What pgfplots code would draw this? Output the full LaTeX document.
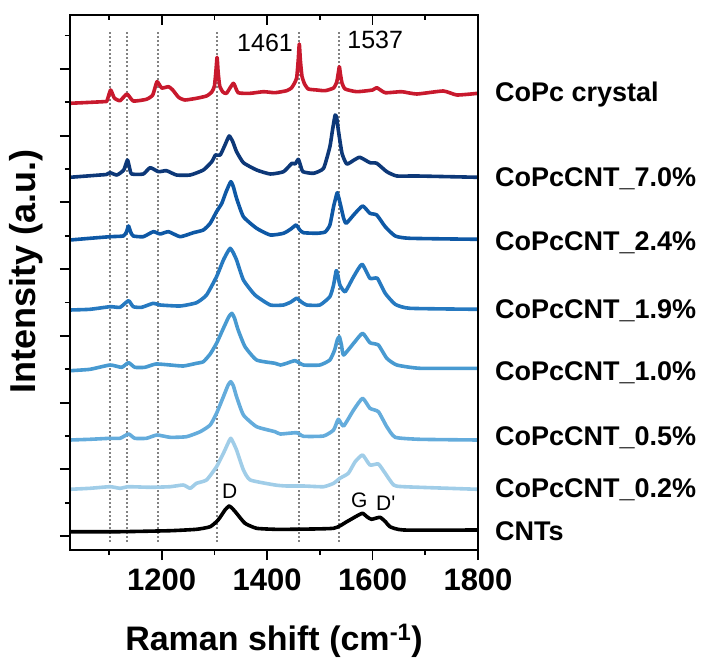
\documentclass[border=0pt]{standalone}
\usepackage{fontspec}
\setmainfont{Liberation Sans}
\usepackage{pgfplots}
\pgfplotsset{compat=1.18}
\definecolor{cred}{RGB}{200,25,45}
\definecolor{cseven}{RGB}{13,56,120}
\definecolor{ctwofour}{RGB}{14,88,165}
\definecolor{conenine}{RGB}{38,121,192}
\definecolor{conezero}{RGB}{72,154,209}
\definecolor{czerofive}{RGB}{100,172,220}
\definecolor{czerotwo}{RGB}{160,205,232}
\definecolor{cdot}{RGB}{130,130,130}
\begin{document}
\begin{tikzpicture}
\useasboundingbox (-70pt,-109pt) rectangle (631pt,550pt);
\begin{axis}[at={(0pt,0pt)}, anchor=south west, scale only axis,
  width=408pt, height=535pt,
  xmin=1026, xmax=1800, ymin=0, ymax=535, clip=false,
  axis line style={line width=2pt},
  xtick={1200,1400,1600,1800}, xticklabels={1200,1400,1600,1800},
  minor xtick={1100,1300,1500,1700},
  ytick={14,80.7,147.4,214.1,280.9,347.6,414.3,481}, yticklabels={},
  minor ytick={47.4,114,180.8,247.5,314.3,381,447.6,514.4},
  xtick pos=left, ytick pos=left, tick align=outside,
  major tick length=10pt, minor tick length=5pt,
  tick style={black, line width=1.8pt},
  x tick label style={font=\fontsize{31}{31}\selectfont\bfseries, yshift=-5pt},
  every axis plot/.append style={line width=3.6pt, smooth, tension=0.3, line join=round}
]
% dotted guide lines
\addplot[cdot, line width=2pt, dash pattern=on 2pt off 2.2pt, sharp plot] coordinates {(1102,8) (1102,520)};
\addplot[cdot, line width=2pt, dash pattern=on 2pt off 2.2pt, sharp plot] coordinates {(1135,8) (1135,520)};
\addplot[cdot, line width=2pt, dash pattern=on 2pt off 2.2pt, sharp plot] coordinates {(1192,8) (1192,520)};
\addplot[cdot, line width=2pt, dash pattern=on 2pt off 2.2pt, sharp plot] coordinates {(1305,8) (1305,520)};
\addplot[cdot, line width=2pt, dash pattern=on 2pt off 2.2pt, sharp plot] coordinates {(1461,8) (1461,520)};
\addplot[cdot, line width=2pt, dash pattern=on 2pt off 2.2pt, sharp plot] coordinates {(1537,8) (1537,520)};
% CNTs
\addplot[black] coordinates {(1026,18.3) (1121,18.3) (1216,19.3) (1266,20.7) (1292,23.3) (1307,30) (1320,40) (1328,44) (1335,41) (1342,36.7) (1358,26.7) (1380,21.7) (1415,20.7) (1443,20.7) (1526,21.7) (1551,28.3) (1570,34) (1581,36.7) (1590,33) (1598,30.7) (1614,32.7) (1625,28) (1633,23.3) (1659,20) (1800,20)};
% 0.2%
\addplot[czerotwo] coordinates {(1026,60.7) (1064,61.7) (1102,63.3) (1121,61.7) (1137,63.3) (1178,62.7) (1216,63.3) (1241,65) (1254,61.7) (1266,66.7) (1285,70) (1304,83.3) (1317,96.7) (1326,107) (1331,111.7) (1336,107) (1342,100) (1355,80) (1368,70) (1415,65) (1437,64) (1469,64) (1507,63.3) (1526,66.7) (1538,71.7) (1554,76.7) (1567,88.3) (1581,95) (1595,85) (1611,86) (1624,76.7) (1640,65) (1659,63.3) (1800,60.7)};
% 0.5%
\addplot[czerofive] coordinates {(1026,110) (1064,110.7) (1102,111.7) (1121,111.7) (1137,116) (1149,111.7) (1171,111.7) (1191,115) (1216,112.7) (1247,113.3) (1273,118.3) (1292,125) (1304,136.7) (1317,153.3) (1326,165) (1331,168.3) (1336,164) (1342,153.3) (1355,135) (1380,123.3) (1415,118.3) (1425,116) (1456,117.3) (1469,113.7) (1507,114) (1526,120) (1535,130.7) (1545,124) (1564,140) (1581,151.7) (1595,141.7) (1611,138.3) (1627,123.3) (1643,112.7) (1690,110.7) (1800,110)};
% 1.0%
\addplot[conezero] coordinates {(1026,179.3) (1064,180.7) (1102,185) (1124,182.7) (1137,187.3) (1149,182.7) (1168,182.7) (1189,186) (1216,185) (1241,184) (1266,186.7) (1279,188.3) (1292,196) (1304,206.7) (1317,221.7) (1327,233) (1333,236.7) (1338,232) (1345,220) (1358,203.3) (1380,190) (1415,186.7) (1425,185) (1437,186.7) (1453,189.3) (1469,185) (1500,185) (1519,190) (1528,200) (1533,210) (1537,213.3) (1541,205) (1545,195) (1564,206.7) (1581,216.7) (1595,207.3) (1611,205) (1627,191.7) (1646,185) (1690,181.7) (1800,181.7)};
% 1.9%
\addplot[conenine] coordinates {(1026,240) (1064,240.7) (1102,243.3) (1121,242.7) (1137,249.3) (1146,243.3) (1162,242.7) (1184,246.7) (1197,245) (1235,244) (1266,247.3) (1285,255) (1304,273.3) (1317,290) (1325,298) (1330,301.7) (1335,298) (1342,290) (1355,270) (1377,255) (1406,245) (1431,245) (1445,248) (1456,251.7) (1465,248) (1475,245) (1500,245) (1519,253.3) (1526,265) (1531,279.3) (1534,275) (1538,265) (1548,258.3) (1564,273.3) (1580,285.7) (1595,271.7) (1609,271.7) (1624,256.7) (1643,245.7) (1671,241.7) (1800,240.7)};
% 2.4%
\addplot[ctwofour] coordinates {(1026,310) (1064,311.7) (1102,313.3) (1127,314) (1133,318) (1137,324) (1141,318) (1146,314) (1165,313.3) (1184,318.3) (1197,316) (1213,318.3) (1235,313.3) (1260,317.3) (1279,320) (1292,326.7) (1304,338.3) (1314,346.7) (1322,358) (1331,368.3) (1336,363) (1342,351.7) (1355,333.3) (1380,321.7) (1406,315) (1431,316.7) (1445,321) (1455,325) (1462,320) (1469,317.3) (1494,316.7) (1510,318) (1519,325) (1526,343.3) (1530,352) (1533,357.3) (1536,352) (1540,343.3) (1545,332) (1550,326.7) (1564,335) (1581,344) (1595,336.7) (1608,335) (1624,323.3) (1643,314) (1671,311.7) (1800,310.7)};
% 7.0%
\addplot[cseven] coordinates {(1026,372.7) (1083,375) (1095,375.5) (1102,377.3) (1115,375) (1128,380) (1135,390) (1139,382) (1143,376) (1165,376) (1178,382.3) (1194,378.3) (1209,379.3) (1228,375) (1254,375) (1279,380) (1295,388.3) (1302,395) (1311,395) (1320,405) (1328,414) (1335,408) (1342,398.3) (1355,387.3) (1380,380) (1406,376) (1431,378.3) (1447,386.7) (1453,386) (1459,390.7) (1463,385) (1468,378.3) (1488,376.7) (1507,381.7) (1519,403.3) (1524,420) (1529,435) (1532,432) (1535,420) (1542,396.7) (1551,386) (1565,390) (1576,392.7) (1595,387.3) (1608,386.7) (1627,378.3) (1646,374) (1684,374) (1800,372.7)};
% CoPc crystal
\addplot[cred] coordinates {(1026,446.7) (1089,448.3) (1096,449) (1103,460) (1110,452) (1121,449.3) (1134,456) (1146,449) (1171,450.7) (1183,455) (1191,468.3) (1200,462) (1213,463.3) (1221,460) (1232,452.7) (1244,450) (1266,451.7) (1285,454) (1295,458) (1300,464) (1303,480) (1305,492.7) (1307,478) (1310,464) (1316,458) (1323,456.7) (1336,466.7) (1345,457.3) (1368,456.7) (1393,458.3) (1415,457.3) (1437,459.3) (1446,462) (1451,466) (1456,472) (1459,490) (1461,506) (1463,490) (1466,474) (1471,466) (1478,461) (1494,460) (1510,459.3) (1526,462) (1532,468) (1535,477) (1537,483.3) (1539,476) (1542,467) (1548,461) (1570,458.3) (1600,460) (1608,462.3) (1624,457.3) (1655,458.3) (1684,456) (1734,459) (1760,455) (1800,456.7)};
% annotations
\node[anchor=base, font=\fontsize{25}{25}\selectfont] at (axis cs:1396,498) {1461};
\node[anchor=base, font=\fontsize{25}{25}\selectfont] at (axis cs:1605,501) {1537};
\node[anchor=base, font=\fontsize{21}{21}\selectfont] at (axis cs:1329,52) {D};
\node[anchor=base, font=\fontsize{21}{21}\selectfont] at (axis cs:1575,43) {G};
\node[anchor=base, font=\fontsize{21}{21}\selectfont] at (axis cs:1625,40) {D\textquotesingle};
% series names
\begin{scope}[every node/.style={anchor=base west, inner sep=0pt, xshift=17pt, font=\fontsize{27}{27}\selectfont\bfseries}]
\node at (axis cs:1800,448) {CoPc crystal};
\node at (axis cs:1800,363) {CoPcCNT\_7.0\%};
\node at (axis cs:1800,300) {CoPcCNT\_2.4\%};
\node at (axis cs:1800,232) {CoPcCNT\_1.9\%};
\node at (axis cs:1800,170) {CoPcCNT\_1.0\%};
\node at (axis cs:1800,105) {CoPcCNT\_0.5\%};
\node at (axis cs:1800,53) {CoPcCNT\_0.2\%};
\node at (axis cs:1800,10) {CNTs};
\end{scope}
% axis labels
\node[anchor=base, inner sep=0pt, font=\fontsize{34}{34}\selectfont\bfseries] at (axis cs:1413,-100) {Raman shift (cm\textsuperscript{-1})};
\node[rotate=90, font=\fontsize{36}{36}\selectfont\bfseries] at ([xshift=-44pt]rel axis cs:0,0.52) {Intensity (a.u.)};
\end{axis}
\begin{axis}[at={(0pt,0pt)}, anchor=south west, scale only axis,
  width=408pt, height=535pt,
  xmin=1026, xmax=1800, ymin=0, ymax=535,
  axis line style={line width=2pt},
  xtick={1200,1400,1600,1800}, xticklabels={},
  minor xtick={1100,1300,1500,1700},
  ytick=\empty,
  xtick pos=right, tick align=inside,
  major tick length=10pt, minor tick length=5pt,
  tick style={black, line width=1.8pt}]
\end{axis}
\end{tikzpicture}
\end{document}
